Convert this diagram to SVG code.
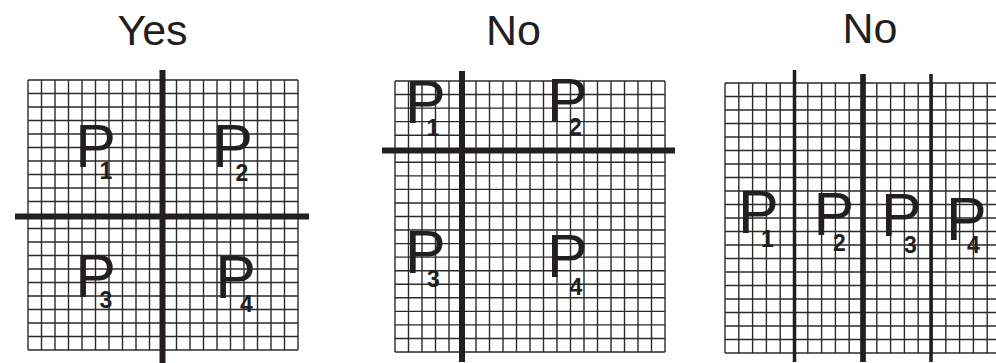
<svg xmlns="http://www.w3.org/2000/svg" width="996" height="363" viewBox="0 0 996 363">
<style>
.grid{fill:none;stroke:#2b2b2b;stroke-width:1.4}
.div{stroke:#231f20;stroke-linecap:butt}
.title{font-family:"Liberation Sans",Arial,sans-serif;font-size:43px;fill:#231f20;text-anchor:middle}
.p{font-family:"Liberation Sans",Arial,sans-serif;font-size:61px;fill:#231f20}
.s{font-size:23px;font-weight:bold}
</style>
<rect width="996" height="363" fill="#ffffff"/>

<g id="panel-yes">
<text class="title" x="152.5" y="45">Yes</text>
<path class="grid" d="M28 80v270m13.5-270v270m13.5-270v270m13.5-270v270m13.5-270v270m13.5-270v270m13.5-270v270m13.5-270v270m13.5-270v270m13.5-270v270m13.5-270v270m13.5-270v270m13.5-270v270m13.5-270v270m13.5-270v270m13.5-270v270m13.5-270v270m13.5-270v270m13.5-270v270m13.5-270v270m13.5-270v270"/>
<path class="grid" d="M28 80h270m-270 13.5h270m-270 13.5h270m-270 13.5h270m-270 13.5h270m-270 13.5h270m-270 13.5h270m-270 13.5h270m-270 13.5h270m-270 13.5h270m-270 13.5h270m-270 13.5h270m-270 13.5h270m-270 13.5h270m-270 13.5h270m-270 13.5h270m-270 13.5h270m-270 13.5h270m-270 13.5h270m-270 13.5h270m-270 13.5h270"/>
<line class="div" x1="162.5" y1="70" x2="162.5" y2="363" stroke-width="6"/>
<line class="div" x1="15" y1="216.5" x2="309" y2="216.5" stroke-width="6"/>
<g id="yes-p1"><text class="p" x="75.3" y="167">P<tspan class="s" x="99.6" y="179">1</tspan></text></g>
<g id="yes-p2"><text class="p" x="212.3" y="167">P<tspan class="s" x="235.6" y="181">2</tspan></text></g>
<g id="yes-p3"><text class="p" x="75.3" y="297">P<tspan class="s" x="99.6" y="308">3</tspan></text></g>
<g id="yes-p4"><text class="p" x="215.3" y="298">P<tspan class="s" x="240.1" y="312">4</tspan></text></g>
</g>

<g id="panel-no-1">
<text class="title" x="513.5" y="45">No</text>
<path class="grid" d="M395 81v271m13.5-271v271m13.5-271v271m13.5-271v271m13.5-271v271m13.5-271v271m13.5-271v271m13.5-271v271m13.5-271v271m13.5-271v271m13.5-271v271m13.5-271v271m13.5-271v271m13.5-271v271m13.5-271v271m13.5-271v271m13.5-271v271m13.5-271v271m13.5-271v271m13.5-271v271m13.5-271v271"/>
<path class="grid" d="M395 81h270m-270 13.55h270m-270 13.55h270m-270 13.55h270m-270 13.55h270m-270 13.55h270m-270 13.55h270m-270 13.55h270m-270 13.55h270m-270 13.55h270m-270 13.55h270m-270 13.55h270m-270 13.55h270m-270 13.55h270m-270 13.55h270m-270 13.55h270m-270 13.55h270m-270 13.55h270m-270 13.55h270m-270 13.55h270m-270 13.55h270"/>
<line class="div" x1="462" y1="71" x2="462" y2="362" stroke-width="6"/>
<line class="div" x1="382" y1="150.5" x2="675" y2="150.5" stroke-width="6"/>
<g id="no1-p1"><text class="p" x="405" y="123">P<tspan class="s" x="426.6" y="136">1</tspan></text></g>
<g id="no1-p2"><text class="p" x="547" y="121">P<tspan class="s" x="569.1" y="135">2</tspan></text></g>
<g id="no1-p3"><text class="p" x="405" y="273">P<tspan class="s" x="427.1" y="287">3</tspan></text></g>
<g id="no1-p4"><text class="p" x="547" y="277">P<tspan class="s" x="569.6" y="295">4</tspan></text></g>
</g>

<g id="panel-no-2">
<text class="title" x="870" y="43">No</text>
<path class="grid" d="M725 83v270m13.8-270v270m13.8-270v270m13.8-270v270m13.8-270v270m13.8-270v270m13.8-270v270m13.8-270v270m13.8-270v270m13.8-270v270m13.8-270v270m13.8-270v270m13.8-270v270m13.8-270v270m13.8-270v270m13.8-270v270m13.8-270v270m13.8-270v270m13.8-270v270m13.8-270v270"/>
<path class="grid" d="M725 83h275m-275 13.5h275m-275 13.5h275m-275 13.5h275m-275 13.5h275m-275 13.5h275m-275 13.5h275m-275 13.5h275m-275 13.5h275m-275 13.5h275m-275 13.5h275m-275 13.5h275m-275 13.5h275m-275 13.5h275m-275 13.5h275m-275 13.5h275m-275 13.5h275m-275 13.5h275m-275 13.5h275m-275 13.5h275m-275 13.5h275"/>
<line class="div" x1="794.5" y1="70" x2="794.5" y2="362" stroke-width="3.5"/>
<line class="div" x1="863" y1="74" x2="863" y2="362" stroke-width="5.7"/>
<line class="div" x1="931" y1="74" x2="931" y2="362" stroke-width="3.5"/>
<g id="no2-p1"><text class="p" x="738" y="233">P<tspan class="s" x="761.1" y="247">1</tspan></text></g>
<g id="no2-p2"><text class="p" x="813.5" y="235">P<tspan class="s" x="833.1" y="251">2</tspan></text></g>
<g id="no2-p3"><text class="p" x="881" y="236">P<tspan class="s" x="904.1" y="253">3</tspan></text></g>
<g id="no2-p4"><text class="p" x="946" y="240">P<tspan class="s" x="967.1" y="253">4</tspan></text></g>
</g>
</svg>
